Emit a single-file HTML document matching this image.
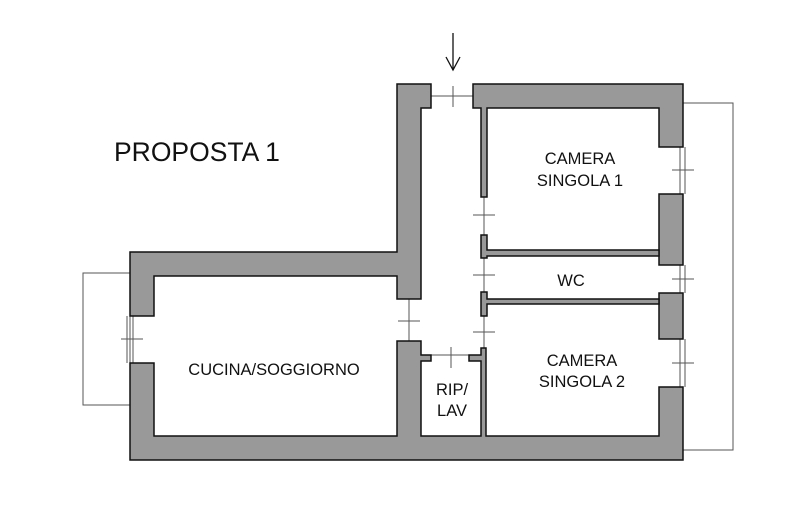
<!DOCTYPE html>
<html><head><style>body{margin:0;background:#fff}svg{display:block}text{font-family:"Liberation Sans",sans-serif;fill:#111}</style></head>
<body>
<svg width="791" height="521" viewBox="0 0 791 521" xmlns="http://www.w3.org/2000/svg">
<rect width="791" height="521" fill="#fff"/>
<g fill="none" stroke="#555" stroke-width="1">
<rect x="83" y="273" width="47" height="132"/>
<polyline points="683,103 733,103 733,450 683,450"/>
<line x1="133" y1="316" x2="133" y2="363"/><line x1="127" y1="316" x2="127" y2="363"/>
<line x1="121" y1="339" x2="143" y2="339"/>
<line x1="680" y1="147" x2="680" y2="194"/><line x1="685" y1="147" x2="685" y2="194"/>
<line x1="680" y1="265" x2="680" y2="293"/><line x1="685" y1="265" x2="685" y2="293"/>
<line x1="680" y1="339" x2="680" y2="387"/><line x1="685" y1="339" x2="685" y2="387"/>
<line x1="672" y1="170" x2="694" y2="170"/><line x1="672" y1="279" x2="694" y2="279"/><line x1="672" y1="363" x2="694" y2="363"/>
<line x1="431" y1="96" x2="473" y2="96"/><line x1="453" y1="86" x2="453" y2="107"/>
<line x1="409" y1="299" x2="409" y2="341"/><line x1="398" y1="321" x2="420" y2="321"/>
<line x1="431" y1="355" x2="469" y2="355"/><line x1="451" y1="347" x2="451" y2="368"/>
<line x1="484" y1="197" x2="484" y2="235"/><line x1="473" y1="215" x2="495" y2="215"/>
<line x1="484" y1="258" x2="484" y2="292"/><line x1="473" y1="275" x2="495" y2="275"/>
<line x1="484" y1="316" x2="484" y2="348"/><line x1="473" y1="332" x2="495" y2="332"/>
</g>
<g fill="#999" stroke="#111" stroke-width="1.5">
<polygon points="397,84 431,84 431,108 421,108 421,299 397,299 397,276 154,276 154,316 130,316 130,252 397,252"/>
<polygon points="130,363 154,363 154,436 397,436 397,341 421,341 421,355 431,355 431,361 421,361 421,436 481,436 481,361 469,361 469,355 481,355 481,348 486,348 486,436 659,436 659,387 683,387 683,460 130,460"/>
<polygon points="473,84 683,84 683,147 659,147 659,108 487,108 487,197 481,197 481,108 473,108"/>
<rect x="659" y="194" width="24" height="71"/>
<rect x="659" y="293" width="24" height="46"/>
<polygon points="481,235 487,235 487,250 659,250 659,256 487,256 487,258 481,258"/>
<polygon points="481,292 487,292 487,299 659,299 659,304 487,304 487,316 481,316"/>
</g>
<g stroke="#111" stroke-width="1.3" fill="none">
<line x1="453" y1="33" x2="453" y2="70"/><polyline points="446,57 453,70 460,57"/>
</g>
<text x="114" y="161" font-size="26.5">PROPOSTA 1</text>
<g font-size="16.5" text-anchor="middle">
<text x="580" y="164">CAMERA</text><text x="580" y="186">SINGOLA 1</text>
<text x="571" y="286">WC</text>
<text x="274" y="375">CUCINA/SOGGIORNO</text>
<text x="452" y="395">RIP/</text><text x="452" y="416">LAV</text>
<text x="582" y="366">CAMERA</text><text x="582" y="387">SINGOLA 2</text>
</g>
</svg>
</body></html>
